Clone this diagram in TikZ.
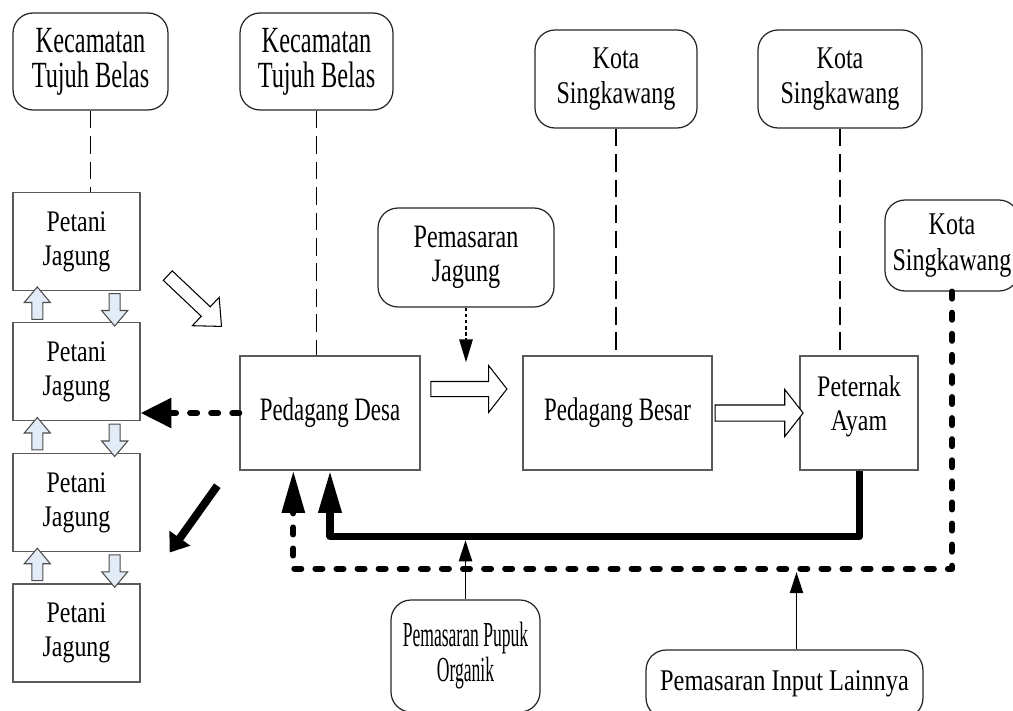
\documentclass[tikz,border=0pt]{standalone}
\usepackage{fontspec}
\setmainfont{Liberation Serif}
\usetikzlibrary{arrows.meta, positioning, calc, shapes.arrows}
\definecolor{shiftblue}{RGB}{227,235,247}
\definecolor{boxgray}{RGB}{90,90,90}

\begin{document}
\begin{tikzpicture}[
    x=0.02cm, y=-0.02cm,
    region/.style={draw=black!85, line width=0.7pt, rounded corners=0.4cm, align=center, inner sep=0pt},
    actor/.style={draw=boxgray, line width=0.8pt, align=center, inner sep=0pt},
    kecfont/.style={font=\fontsize{21}{20}\selectfont\addfontfeature{FakeStretch=0.66}},
    kotafont/.style={font=\fontsize{18}{20.4}\selectfont\addfontfeature{FakeStretch=0.76}},
    petfont/.style={font=\fontsize{17}{19.3}\selectfont\addfontfeature{FakeStretch=0.8}},
    mjagfont/.style={font=\fontsize{18.6}{19}\selectfont\addfontfeature{FakeStretch=0.74}},
    tradefont/.style={font=\fontsize{18.6}{20}\selectfont\addfontfeature{FakeStretch=0.7}},
    pupukfont/.style={font=\fontsize{20}{20}\selectfont\addfontfeature{FakeStretch=0.5}},
    inputfont/.style={font=\fontsize{17.1}{19}\selectfont\addfontfeature{FakeStretch=0.81}},
    shiftarrow/.style={single arrow, draw=black!70, fill=shiftblue, line width=0.6pt, inner xsep=0pt, inner ysep=0.1cm, minimum height=0.65cm, single arrow head extend=0.15cm, single arrow tip angle=80},
    flowarrow/.style={single arrow, draw, fill=white, line width=0.6pt, inner xsep=0pt, inner ysep=0.14cm, single arrow head extend=0.32cm, single arrow tip angle=104},
    tieline/.style={line width=1pt, dash pattern=on 10pt off 4.5pt},
    returnline/.style={line width=3.4pt, line cap=round, dash pattern=on 4pt off 8pt, -{Triangle[length=17.5pt,width=16.5pt]}},
    feedline/.style={line width=4pt, line join=round, -{Triangle[length=24pt,width=12.5pt]}},
    inputline/.style={line width=3.4pt, line cap=round, line join=round, dash pattern=on 4pt off 8pt, -{Triangle[length=24pt,width=12.5pt]}},
    sellline/.style={line width=4.5pt, -{Triangle[length=10pt,width=14pt]}},
    marketarrow/.style={line width=1.2pt, dash pattern=on 2pt off 1.5pt, -{Triangle[length=13pt,width=7.5pt]}},
    supplyarrow/.style={line width=1pt, shorten >=2pt, -{Triangle[length=12pt,width=7.5pt]}}
]
    \useasboundingbox (0,0) rectangle (1013,710);

    % Regions
    \node[region, kecfont, minimum width=3.1cm, minimum height=1.94cm] (kec1) at (90.5,61.5) {Kecamatan\\Tujuh Belas};
    \node[region, kecfont, minimum width=3.06cm, minimum height=1.94cm] (kec2) at (316.5,61.5) {Kecamatan\\Tujuh Belas};
    \node[region, kotafont, minimum width=3.24cm, minimum height=1.96cm] (kota1) at (616,79) {Kota\\Singkawang};
    \node[region, kotafont, minimum width=3.28cm, minimum height=1.96cm] (kota2) at (840,79) {Kota\\Singkawang};
    \node[region, kotafont, minimum width=2.68cm, minimum height=1.82cm] (kota3) at (952,245.5) {Kota\\Singkawang};

    % Markets
    \node[region, mjagfont, minimum width=3.52cm, minimum height=1.98cm] (mjag) at (466,257.5) {Pemasaran\\Jagung};
    \node[region, pupukfont, minimum width=2.98cm, minimum height=2.24cm] (pupuk) at (465.5,656) {Pemasaran Pupuk\\Organik};
    \node[region, inputfont, minimum width=5.54cm, minimum height=1.36cm] (input) at (784.5,684) {Pemasaran Input Lainnya};

    % Farmers
    \node[actor, petfont, minimum width=2.54cm, minimum height=1.96cm] (pet1) at (76.5,241.5) {Petani\\Jagung};
    \node[actor, petfont, minimum width=2.54cm, minimum height=1.96cm] (pet2) at (76.5,371.5) {Petani\\Jagung};
    \node[actor, petfont, minimum width=2.54cm, minimum height=1.96cm] (pet3) at (76.5,502.5) {Petani\\Jagung};
    \node[actor, petfont, minimum width=2.54cm, minimum height=1.96cm] (pet4) at (76.5,633) {Petani\\Jagung};

    % Traders
    \node[actor, tradefont, minimum width=3.6cm, minimum height=2.28cm] (desa) at (330,413) {Pedagang Desa};
    \node[actor, tradefont, minimum width=3.78cm, minimum height=2.28cm] (besar) at (617.5,413) {Pedagang Besar};
    \node[actor, petfont, minimum width=2.36cm, minimum height=2.28cm] (peternak) at (859,413) {Peternak\\Ayam\\[-0.28cm]};

    % Region links
    \draw[tieline] (kec1.south) -- (kec1.south |- pet1.north);
    \draw[tieline] (kec2.south) -- (kec2.south |- desa.north);
    \draw[tieline] (kota1.south) -- (kota1.south |- besar.north);
    \draw[tieline] (kota2.south) -- (kota2.south |- peternak.north);

    % Between farmers
    \foreach \a/\b in {pet1/pet2, pet2/pet3, pet3/pet4} {
        \node[shiftarrow, rotate=90] (up-\a) at ($(\a.south west)!0.5!(\b.north west)+(25,0)$) {};
        \node[shiftarrow, rotate=-90] (down-\a) at ($(\a.south east)!0.5!(\b.north east)+(-26,0)$) {};
    }

    % Corn flow
    \node[flowarrow, minimum height=1.48cm, inner ysep=0.12cm, single arrow head extend=0.26cm, single arrow tip angle=84, rotate=-43.4] (flow0) at (192,298.5) {};
    \node[flowarrow, minimum height=1.52cm] (flow1) at (466,389) {};
    \node[flowarrow, minimum height=1.76cm, inner ysep=0.15cm, single arrow head extend=0.31cm] (flow2) at (756,413) {};

    % Back to farmers
    \draw[returnline] (desa.west) -- (desa.west -| pet2.east);
    \coordinate (sellstart) at ($(desa.south west)+(-22,15)$);
    \coordinate (sellend) at ($(pet3.east)+(29,50)$);
    \draw[sellline] (sellstart) -- (sellend);

    % Market inputs
    \draw[marketarrow] (mjag.south) -- ($(mjag.south |- desa.north)+(0,7)$);
    \draw[feedline] (peternak.south) -- ++(0,66) coordinate (feedbend) -| (desa.south);
    \draw[inputline] (kota3.south) -- ++(0,277) coordinate (inputbend) -| ($(desa.south west)+(54,0)$);
    \draw[supplyarrow] (pupuk.north) -- (pupuk.north |- feedbend);
    \coordinate (inputtop) at ($(input.north)+(12,0)$);
    \draw[supplyarrow] (inputtop) -- (inputtop |- inputbend);
\end{tikzpicture}
\end{document}
